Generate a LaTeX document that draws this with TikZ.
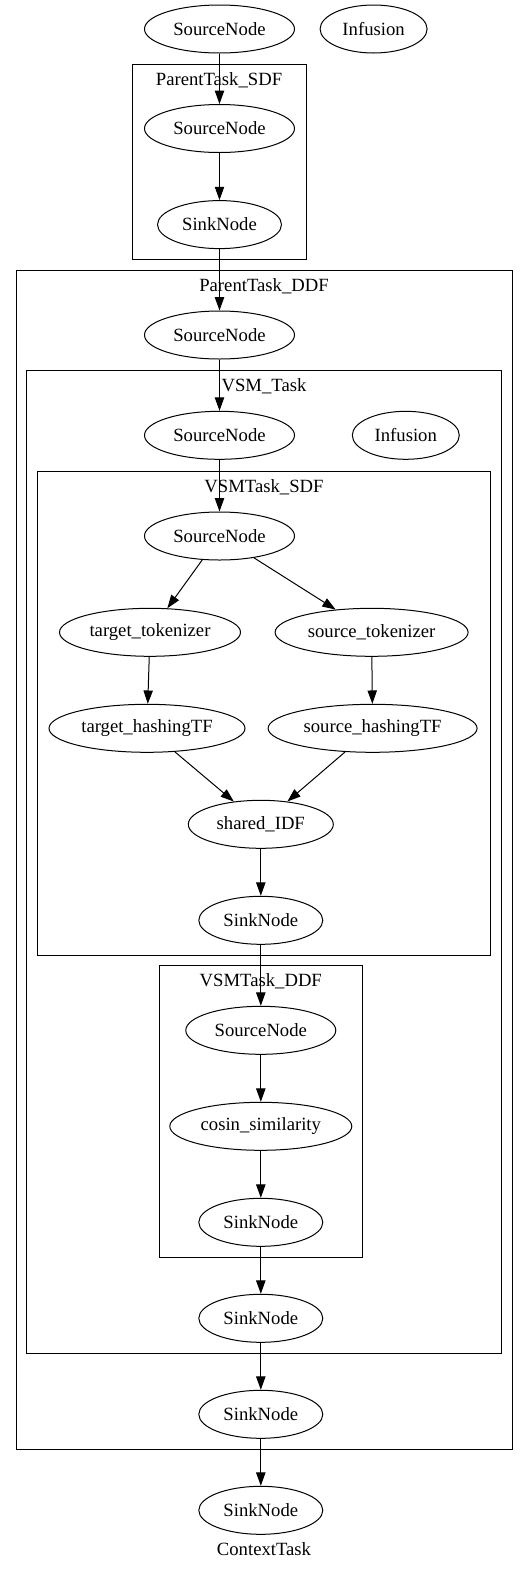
\documentclass[tikz,border=0pt]{standalone}
\usepackage{fontspec}
\setmainfont{Liberation Serif}
\usetikzlibrary{arrows.meta, shapes.geometric}

\begin{document}
\begin{tikzpicture}[
  x = 0.75pt, y = -0.75pt,
  task/.style={ellipse, draw, line width=0.75pt, inner sep=0pt, minimum height=36pt, font=\fontsize{14pt}{16pt}\selectfont},
  cluster/.style={draw, line width=0.75pt},
  clabel/.style={anchor=base, inner sep=0pt, font=\fontsize{14pt}{16pt}\selectfont},
  flow/.style={-{Triangle[length=10pt, width=7pt]}, line width=0.75pt}
]
%general params
\def\px{0.75pt} %one pixel
\def\wSrc{150*\px} %width of a SourceNode
\def\wSnk{124*\px} %width of a SinkNode
\def\wInf{107*\px} %width of an Infusion
\useasboundingbox (0,0) rectangle (528,1571);

%clusters
\draw[cluster] (132,64) rectangle (306,259.5);
\draw[cluster] (16,270) rectangle (512,1449);
\draw[cluster] (26.7,370) rectangle (501.3,1353);
\draw[cluster] (37.3,471) rectangle (490.7,955);
\draw[cluster] (159.5,965.5) rectangle (362,1257);

\node[clabel] (lblPSDF) at (219,85) {ParentTask\_SDF};
\node[clabel] (lblPDDF) at (264,291) {ParentTask\_DDF};
\node[clabel] (lblVSM)  at (264,391) {VSM\_Task};
\node[clabel] (lblVSDF) at (264,492) {VSMTask\_SDF};
\node[clabel] (lblVDDF) at (260.8,986.5) {VSMTask\_DDF};
\node[clabel] (lblCtx)  at (264,1555) {ContextTask};

%ContextTask
\node[task, minimum width=\wSrc] (ctxSrc) at (219.5,29) {SourceNode};
\node[task, minimum width=\wInf] (ctxInf) at (373.6,29) {Infusion};
\node[task, minimum width=\wSnk] (ctxSnk) at (260.8,1510.3) {SinkNode};

%ParentTask_SDF
\node[task, minimum width=\wSrc] (psdfSrc) at (219.5,128.5) {SourceNode};
\node[task, minimum width=\wSnk] (psdfSnk) at (219.5,224.6) {SinkNode};

%ParentTask_DDF
\node[task, minimum width=\wSrc] (pddfSrc) at (219.5,335) {SourceNode};
\node[task, minimum width=\wSnk] (pddfSnk) at (260.8,1414.3) {SinkNode};

%VSM_Task
\node[task, minimum width=\wSrc] (vsmSrc) at (219.5,435.3) {SourceNode};
\node[task, minimum width=\wInf] (vsmInf) at (405.8,435.3) {Infusion};
\node[task, minimum width=\wSnk] (vsmSnk) at (260.8,1318.3) {SinkNode};

%VSMTask_SDF
\node[task, minimum width=\wSrc] (vsdfSrc) at (219.5,536) {SourceNode};
\node[task, minimum width=181*\px] (tgtTok) at (150,632.3) {target\_tokenizer};
\node[task, minimum width=193*\px] (srcTok) at (371.6,632.3) {source\_tokenizer};
\node[task, minimum width=196*\px] (tgtHash) at (147,728.3) {target\_hashingTF};
\node[task, minimum width=209*\px] (srcHash) at (372.6,728.3) {source\_hashingTF};
\node[task, minimum width=145*\px] (idf) at (260.8,824.3) {shared\_IDF};
\node[task, minimum width=\wSnk] (vsdfSnk) at (260.8,920.3) {SinkNode};

%VSMTask_DDF
\node[task, minimum width=\wSrc] (vddfSrc) at (260.8,1030.3) {SourceNode};
\node[task, minimum width=182*\px] (cosin) at (260.8,1126.3) {cosin\_similarity};
\node[task, minimum width=\wSnk] (vddfSnk) at (260.8,1222.3) {SinkNode};

%edges
\draw[flow] (ctxSrc) -- (psdfSrc);
\draw[flow] (psdfSrc) -- (psdfSnk);
\draw[flow] (psdfSnk) -- (pddfSrc);
\draw[flow] (pddfSrc) -- (vsmSrc);
\draw[flow] (vsmSrc) -- (vsdfSrc);
\draw[flow] (vsdfSrc) -- (tgtTok);
\draw[flow] (vsdfSrc) -- (srcTok);
\draw[flow] (tgtTok) -- (tgtHash);
\draw[flow] (srcTok) -- (srcHash);
\draw[flow] (tgtHash) -- (idf);
\draw[flow] (srcHash) -- (idf);
\draw[flow] (idf) -- (vsdfSnk);
\draw[flow] (vsdfSnk) -- (vddfSrc);
\draw[flow] (vddfSrc) -- (cosin);
\draw[flow] (cosin) -- (vddfSnk);
\draw[flow] (vddfSnk) -- (vsmSnk);
\draw[flow] (vsmSnk) -- (pddfSnk);
\draw[flow] (pddfSnk) -- (ctxSnk);

\end{tikzpicture}
\end{document}
